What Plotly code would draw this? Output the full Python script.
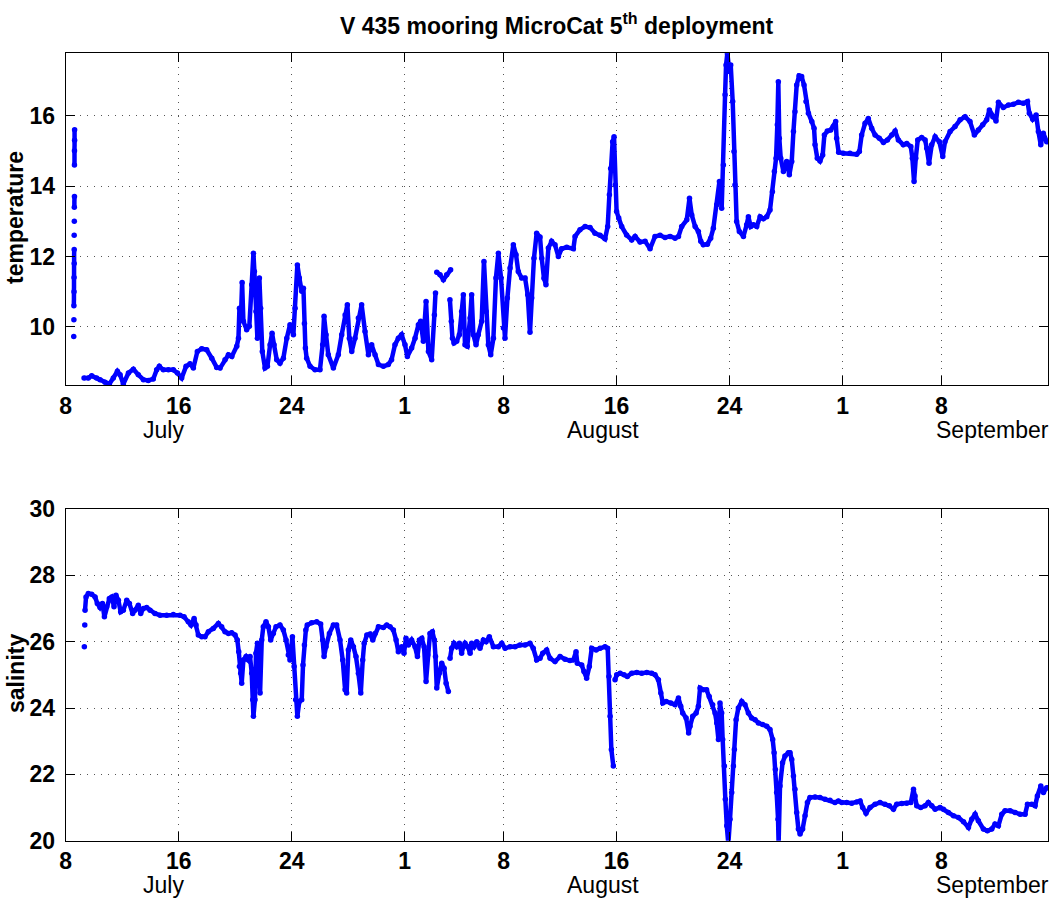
import datetime as dt
import plotly.graph_objects as go

START = dt.datetime(2009, 7, 8)

# Temperature record: time in days after 8 July 00:00, None marks a break
temp_day = [
    0.63, 0.63, 0.62, 0.62, None, 0.62, 0.61, None, 0.61, None, 0.60, None,
    0.60, 0.60, 0.59, 0.59, 0.58, None, 0.58, None, 0.57, None,
    1.30, 1.60, 1.84, 2.19, 2.43, 2.78, 3.09, 3.37, 3.66, 3.85, 4.08, 4.44,
    4.79, 5.14, 5.50, 5.85, 6.20, 6.44, 6.63, 6.91, 7.27, 7.62, 7.91, 8.21,
    8.52, 8.80, 9.04, 9.32, 9.63, 9.98, 10.34, 10.69, 10.93, 11.28, 11.52,
    11.76, 12.11, 12.23, 12.30, 12.42, 12.49, 12.58, 12.81, 13.00, 13.17,
    13.29, 13.36, 13.47, 13.57, 13.71, 13.80, 13.92, 14.11, 14.28, 14.47,
    14.61, 14.75, 14.94, 15.17, 15.41, 15.65, 15.88, 16.12, 16.24, 16.40,
    16.54, 16.71, 16.83, 16.90, 16.97, 17.06, 17.30, 17.65, 18.00, 18.19,
    18.29, 18.43, 18.59, 18.95, 19.30, 19.54, 19.78, 19.94, 20.08, 20.25,
    20.48, 20.72, 20.95, 21.19, 21.43, 21.66, 21.90, 22.14, 22.49, 22.84,
    23.07, 23.31, 23.55, 23.78, 24.02, 24.19, 24.49, 24.73, 24.97, 25.13,
    25.32, 25.51, 25.68, 25.91, 26.10, 26.18, None,
    26.27, 26.50, 26.74, 26.97, 27.25, None,
    27.20, 27.30, 27.38, 27.49, 27.68, 27.87, 28.03, 28.15, 28.27, 28.43,
    28.63, 28.74, 28.86, 29.05, 29.21, 29.45, 29.61, 29.76, 29.92, 30.09,
    30.28, 30.46, 30.63, 30.82, 30.99, 31.10, 31.27, 31.46, 31.69, 31.88,
    32.04, 32.28, 32.52, 32.71, 32.87, 32.99, 33.15, 33.34, 33.58, 33.70,
    33.86, 34.00, 34.17, 34.40, 34.64, 34.88, 35.11, 35.47, 35.94, 36.06,
    36.41, 36.77, 37.12, 37.47, 37.83, 38.18, 38.37, 38.49, 38.58, 38.72,
    38.82, 38.91, 39.00, 39.15, 39.36, 39.71, 40.07, 40.31, 40.66, 41.02,
    41.37, 41.72, 42.08, 42.43, 42.79, 43.14, 43.38, 43.61, 43.97, 44.16,
    44.32, 44.56, 44.79, 44.96, 45.14, 45.43, 45.66, 45.85, 46.09, 46.28,
    46.44, 46.56, 46.68, 46.75, 46.84, 46.99, 47.08, 47.22, 47.31, 47.38,
    47.50, 47.69, 47.98, 48.21, 48.33, 48.50, 48.69, 48.92, 49.16, 49.39,
    49.63, 49.86, 50.03, 50.17, 50.29, 50.38, 50.45, 50.52, 50.62, 50.81,
    51.04, 51.23, 51.40, 51.52, 51.63, 51.75, 51.92, 52.10, 52.27, 52.41,
    52.58, 52.82, 52.98, 53.05, 53.21, 53.40, 53.59, 53.71, 53.92, 54.16,
    54.34, 54.51, 54.58, 54.72, 55.05, 55.52, 56.00, 56.19, 56.35, 56.59,
    56.82, 57.06, 57.30, 57.60, 57.89, 58.17, 58.48, 58.72, 58.95, 59.30,
    59.54, 59.83, 59.94, 60.06, 60.18, 60.32, 60.60, 60.84, 60.96, 61.12,
    61.31, 61.55, 61.85, 62.09, 62.25, 62.61, 62.96, 63.32, 63.67, 64.02,
    64.33, 64.61, 64.92, 65.20, 65.39, 65.63, 65.86, 66.03, 66.38, 66.74,
    67.09, 67.45, 67.80, 68.09, 68.22, 68.46, 68.70, 68.86, 69.03, 69.21,
    69.45,
]
temp_val = [
    15.60, 15.30, 15.00, 14.60, None, 13.70, 13.40, None, 13.00, None, 12.60, None,
    12.20, 11.80, 11.40, 11.00, 10.60, None, 10.20, None, 9.73, None,
    8.55, 8.55, 8.61, 8.55, 8.50, 8.43, 8.38, 8.55, 8.74, 8.64, 8.38, 8.69,
    8.80, 8.64, 8.50, 8.48, 8.52, 8.78, 8.88, 8.78, 8.78, 8.78, 8.69, 8.55,
    8.88, 8.95, 8.83, 9.30, 9.38, 9.35, 9.11, 8.85, 8.83, 9.07, 9.21,
    9.16, 9.45, 9.68, 10.53, 10.44, 11.26, 10.16, 9.92, 10.02, 11.20,
    12.09, 11.57, 10.44, 9.68, 11.39, 10.53, 9.30, 8.83, 8.88, 9.49,
    9.82, 9.49, 9.07, 8.97, 9.11, 9.68, 10.06, 9.78, 10.53, 11.76,
    11.39, 11.01, 11.10, 10.10, 9.40, 9.11, 8.88, 8.78, 8.78, 9.49,
    10.30, 9.78, 9.21, 8.83, 9.21, 9.78, 10.34, 10.63, 9.68, 9.30,
    9.68, 10.25, 10.63, 9.87, 9.21, 9.49, 9.21, 8.93, 8.88, 8.93,
    9.07, 9.49, 9.68, 9.78, 9.49, 9.16, 9.40, 9.68, 10.06, 10.16,
    9.59, 10.72, 9.30, 9.07, 10.34, 10.96, None,
    11.55, 11.48, 11.34, 11.48, 11.62, None,
    10.77, 10.16, 9.68, 9.54, 9.59, 9.78, 10.44, 10.91, 9.49, 9.45,
    10.25, 10.91, 9.78, 9.49, 9.78, 10.16, 11.86, 10.44, 9.49, 9.21,
    9.68, 11.39, 12.09, 11.39, 9.97, 9.68, 10.82, 11.67, 12.33, 12.05,
    11.57, 11.39, 11.39, 10.91, 9.85, 10.82, 11.95, 12.66, 12.55, 11.95,
    11.38, 11.20, 12.24, 12.43, 12.33, 12.00, 12.22, 12.26, 12.22, 12.57,
    12.76, 12.85, 12.82, 12.66, 12.60, 12.50, 12.85, 13.75, 14.50, 15.26,
    15.40, 14.03, 13.28, 13.09, 12.85, 12.61, 12.47, 12.57, 12.41, 12.43,
    12.22, 12.57, 12.60, 12.54, 12.57, 12.52, 12.57, 12.85, 13.04, 13.65,
    13.18, 12.85, 12.71, 12.43, 12.33, 12.35, 12.52, 12.80, 13.47, 14.13,
    13.37, 14.60, 16.59, 17.44, 17.77, 17.25, 17.44, 16.40, 14.98, 14.03,
    12.99, 12.71, 12.57, 12.90, 13.13, 12.85, 12.90, 12.85, 13.13, 13.07,
    13.13, 13.32, 13.84, 14.41, 14.79, 15.74, 16.96, 15.36, 14.79, 14.41,
    14.70, 14.32, 14.70, 15.55, 16.11, 16.87, 17.13, 17.11, 16.87, 16.40,
    16.07, 15.83, 15.64, 15.17, 14.79, 14.71, 14.88, 15.45, 15.56, 15.59,
    15.69, 15.83, 15.36, 14.96, 14.93, 14.93, 14.90, 14.98, 15.45, 15.78,
    15.92, 15.64, 15.45, 15.36, 15.24, 15.31, 15.45, 15.56, 15.31, 15.17,
    15.21, 15.12, 14.79, 14.13, 14.79, 15.31, 15.38, 15.31, 15.07, 14.65,
    15.17, 15.40, 15.26, 14.84, 15.26, 15.55, 15.69, 15.88, 15.97, 15.83,
    15.45, 15.59, 15.74, 15.88, 16.16, 15.97, 15.85, 16.38, 16.23, 16.30,
    16.32, 16.38, 16.35, 16.40, 16.07, 15.90, 16.02, 15.55, 15.17, 15.50,
    15.26,
]

# Salinity record on the same time base
sal_day = [
    1.32, None, 1.35, None,
    1.37, 1.44, 1.60, 1.84, 2.08, 2.24, 2.43, 2.60, 2.74, 2.90, 3.09, 3.26,
    3.42, 3.56, 3.73, 3.89, 4.08, 4.32, 4.51, 4.74, 4.91, 5.14, 5.31, 5.50,
    5.73, 5.97, 6.32, 6.68, 7.15, 7.62, 8.09, 8.38, 8.68, 8.87, 9.09, 9.23,
    9.39, 9.63, 9.86, 10.10, 10.45, 10.81, 11.04, 11.28, 11.52, 11.75, 11.99,
    12.15, 12.25, 12.30, 12.39, 12.46, 12.58, 12.77, 12.93, 13.05, 13.17,
    13.24, 13.29, 13.40, 13.47, 13.57, 13.64, 13.76, 13.88, 13.99, 14.18,
    14.35, 14.51, 14.70, 14.89, 15.17, 15.41, 15.60, 15.76, 15.88, 16.05,
    16.17, 16.28, 16.40, 16.54, 16.71, 16.80, 16.90, 17.00, 17.10, 17.41,
    17.77, 18.05, 18.19, 18.29, 18.43, 18.67, 18.95, 19.18, 19.42, 19.61,
    19.78, 19.89, 20.01, 20.18, 20.37, 20.55, 20.72, 20.89, 21.03, 21.13,
    21.32, 21.55, 21.74, 21.90, 22.14, 22.49, 22.73, 22.96, 23.20, 23.39,
    23.55, 23.79, 23.95, 24.09, 24.26, 24.49, 24.73, 24.90, 25.04, 25.21,
    25.37, 25.51, 25.63, 25.79, 25.96, 26.10, 26.18, 26.27, 26.45, 26.62,
    26.79, 26.93, 27.09, None,
    27.21, 27.32, 27.49, 27.68, 27.87, 28.03, 28.15, 28.27, 28.46, 28.63,
    28.74, 28.91, 29.10, 29.33, 29.57, 29.76, 29.99, 30.28, 30.63, 30.87,
    31.11, 31.46, 31.81, 32.16, 32.52, 32.87, 33.10, 33.34, 33.58, 33.77,
    34.05, 34.29, 34.64, 35.00, 35.35, 35.70, 35.94, 36.13, 36.22, 36.53,
    36.69, 36.88, 37.07, 37.24, 37.55, 37.83, 38.18, 38.37, 38.46, 38.54,
    38.63, 38.77, None,
    38.89, 39.01, 39.25, 39.53, 39.76, 40.07, 40.43, 40.78, 41.14, 41.49,
    41.72, 41.96, 42.13, 42.27, 42.51, 42.84, 43.14, 43.38, 43.54, 43.68,
    43.92, 44.10, 44.20, 44.39, 44.63, 44.79, 44.91, 45.14, 45.37, 45.56,
    45.80, 45.97, 46.09, 46.21, 46.32, 46.44, 46.51, 46.63, 46.70, 46.80,
    46.91, 47.03, 47.15, 47.27, 47.34, 47.46, 47.62, 47.86, 48.09, 48.33,
    48.56, 48.80, 49.04, 49.34, 49.63, 49.86, 50.05, 50.15, 50.24, 50.33,
    50.43, 50.47, 50.57, 50.75, 50.92, 51.16, 51.28, 51.40, 51.52, 51.63,
    51.75, 51.87, 51.99, 52.17, 52.34, 52.51, 52.69, 53.05, 53.40, 53.76,
    54.11, 54.46, 54.70, 54.94, 55.29, 55.65, 56.00, 56.24, 56.42, 56.66,
    56.94, 57.30, 57.65, 58.00, 58.31, 58.60, 58.83, 59.19, 59.54, 59.83,
    60.02, 60.13, 60.25, 60.53, 60.84, 61.07, 61.31, 61.55, 61.90, 62.14,
    62.49, 62.85, 63.20, 63.56, 63.91, 64.14, 64.38, 64.61, 64.97, 65.25,
    65.56, 65.79, 66.03, 66.27, 66.50, 66.86, 67.21, 67.57, 67.92, 68.09,
    68.39, 68.63, 68.79, 69.03, 69.22, 69.45,
]
sal_val = [
    25.85, None, 26.50, None,
    26.95, 27.35, 27.45, 27.43, 27.35, 27.15, 27.03, 27.15, 26.75, 27.05, 27.30, 27.35,
    27.05, 27.40, 27.25, 26.90, 26.95, 27.25, 27.15, 26.85, 26.95, 27.10, 26.85, 27.00,
    27.03, 26.95, 26.85, 26.80, 26.80, 26.82, 26.80, 26.75, 26.60, 26.50, 26.70, 26.50,
    26.20, 26.15, 26.15, 26.30, 26.40, 26.55, 26.45, 26.30, 26.25, 26.27, 26.20,
    26.05, 25.70, 25.25, 25.05, 24.75, 25.45, 25.55, 25.45, 25.55, 25.05,
    24.25, 23.75, 24.25, 25.65, 25.95, 25.05, 24.45, 26.05, 26.45, 26.60,
    26.45, 26.05, 26.25, 26.45, 26.50, 26.35, 26.05, 25.60, 25.45, 26.15,
    25.25, 24.25, 23.75, 24.20, 24.25, 25.30, 25.90, 26.35, 26.50, 26.57,
    26.60, 26.53, 26.05, 25.55, 25.85, 26.25, 26.50, 26.50, 26.05, 25.45,
    24.55, 24.45, 25.75, 26.05, 25.85, 25.55, 25.05, 24.45, 25.45, 25.95,
    26.20, 26.23, 26.05, 26.25, 26.45, 26.43, 26.50, 26.45, 26.35, 26.05,
    25.70, 25.85, 25.65, 26.10, 25.90, 26.05, 25.85, 25.55, 26.05, 26.10,
    25.85, 24.80, 25.60, 26.25, 26.30, 26.05, 25.55, 24.60, 25.05, 25.35,
    25.20, 24.75, 24.50, None,
    25.50, 25.80, 25.95, 25.85, 25.95, 25.65, 25.85, 25.95, 25.85, 25.65,
    25.95, 25.85, 26.00, 25.80, 26.05, 26.00, 26.15, 25.85, 25.85, 25.95,
    25.80, 25.85, 25.85, 25.90, 25.90, 25.95, 25.80, 25.45, 25.50, 25.65,
    25.75, 25.50, 25.40, 25.55, 25.47, 25.43, 25.45, 25.70, 25.35, 25.30,
    25.10, 24.90, 25.25, 25.80, 25.75, 25.80, 25.85, 25.80, 24.95, 23.75,
    22.75, 22.25, None,
    24.85, 25.00, 25.05, 25.00, 24.95, 25.05, 25.07, 25.05, 25.07, 25.05,
    25.00, 24.85, 24.45, 24.15, 24.20, 24.15, 24.10, 24.30, 24.05, 23.85,
    23.70, 23.25, 23.45, 23.75, 23.85, 24.05, 24.60, 24.55, 24.55, 24.35,
    24.10, 23.85, 23.55, 23.05, 24.15, 23.85, 23.05, 22.25, 21.25, 20.45,
    19.90, 20.65, 21.45, 22.25, 22.75, 23.65, 24.00, 24.20, 24.10, 23.85,
    23.70, 23.65, 23.55, 23.50, 23.45, 23.35, 23.05, 22.65, 22.15, 21.45,
    20.65, 19.90, 21.65, 22.35, 22.55, 22.65, 22.65, 22.45, 21.95, 21.55,
    20.85, 20.35, 20.20, 20.35, 20.75, 21.15, 21.30, 21.32, 21.30, 21.25,
    21.22, 21.15, 21.20, 21.15, 21.15, 21.13, 21.17, 21.20, 21.00, 20.83,
    21.00, 21.10, 21.15, 21.10, 21.05, 20.95, 21.10, 21.12, 21.13, 21.15,
    21.55, 21.35, 21.05, 21.00, 21.05, 21.15, 21.05, 20.95, 21.00, 20.95,
    20.85, 20.75, 20.70, 20.57, 20.40, 20.65, 20.80, 20.60, 20.35, 20.30,
    20.35, 20.50, 20.45, 20.80, 20.90, 20.90, 20.85, 20.80, 20.80, 21.10,
    21.10, 21.05, 21.35, 21.65, 21.45, 21.60,
]

# Axis labelling
tick_dates = ["2009-07-08", "2009-07-16", "2009-07-24", "2009-08-01", "2009-08-08",
              "2009-08-16", "2009-08-24", "2009-09-01", "2009-09-08"]
tick_text = ["8", "16", "24", "1", "8", "16", "24", "1", "8"]
month_names = ["July", "August", "September"]
month_dates = ["2009-07-14 23:00", "2009-08-15 01:00", "2009-09-11 15:00"]
x_span = ["2009-07-08 00:00", "2009-09-15 13:00"]
temp_ticks = [10, 12, 14, 16]
sal_ticks = [20, 22, 24, 26, 28, 30]


def to_time(days):
    return [START + dt.timedelta(days=d) if d is not None else None for d in days]


BLUE = "#0000ff"
FONT = "Liberation Sans"
FS = 23

fig = go.Figure()
fig.add_trace(go.Scatter(
    x=to_time(temp_day), y=temp_val, mode="lines+markers",
    line=dict(color=BLUE, width=4.5), marker=dict(color=BLUE, size=5.5),
    connectgaps=False, xaxis="x", yaxis="y", showlegend=False))
fig.add_trace(go.Scatter(
    x=to_time(sal_day), y=sal_val, mode="lines+markers",
    line=dict(color=BLUE, width=4.5), marker=dict(color=BLUE, size=5.5),
    connectgaps=False, xaxis="x2", yaxis="y2", showlegend=False))

W, H = 1058, 902
xdom = [65.7 / W, 1048 / W]
ydom_top = [1 - 385 / H, 1 - 53.3 / H]
ydom_bot = [1 - 840.7 / H, 1 - 509 / H]

axis_common = dict(
    showline=True, linecolor="black", linewidth=1.2, mirror="ticks",
    ticks="inside", ticklen=9, tickwidth=1.2, tickcolor="black",
    showgrid=True, gridcolor="#555555", gridwidth=1, griddash="1px,6px",
    zeroline=False, automargin=False,
    tickfont=dict(family=FONT, size=FS, color="black", weight="bold"),
)

fig.update_layout(
    width=W, height=H,
    margin=dict(l=0, r=0, t=0, b=0, pad=0, autoexpand=False),
    paper_bgcolor="white", plot_bgcolor="white", showlegend=False,
    xaxis=dict(domain=xdom, anchor="y", type="date", range=x_span,
               tickvals=tick_dates, ticktext=tick_text, **axis_common),
    yaxis=dict(domain=ydom_top, anchor="x", range=[8.35, 17.77],
               tickvals=temp_ticks, ticklabelstandoff=5, **axis_common),
    xaxis2=dict(domain=xdom, anchor="y2", type="date", range=x_span,
                tickvals=tick_dates, ticktext=tick_text, **axis_common),
    yaxis2=dict(domain=ydom_bot, anchor="x2", range=[20, 30],
                tickvals=sal_ticks, ticklabelstandoff=5, **axis_common),
)

xmid = (xdom[0] + xdom[1]) / 2
ann = [
    dict(text="V 435 mooring MicroCat 5<sup>th</sup> deployment",
         x=xmid, y=1 - 41 / H, xref="paper", yref="paper",
         xanchor="center", yanchor="bottom", showarrow=False,
         font=dict(family=FONT, size=FS, color="black", weight="bold")),
    dict(text="temperature", x=15 / W, y=1 - 218 / H, xref="paper", yref="paper",
         textangle=-90, xanchor="center", yanchor="middle", showarrow=False,
         font=dict(family=FONT, size=FS, color="black", weight="bold")),
    dict(text="salinity", x=16 / W, y=1 - 674 / H, xref="paper", yref="paper",
         textangle=-90, xanchor="center", yanchor="middle", showarrow=False,
         font=dict(family=FONT, size=FS, color="black", weight="bold")),
]
for ytop in (415, 870):
    for name, pos in zip(month_names, month_dates):
        ann.append(dict(text=name, x=pos, y=1 - ytop / H, xref="x", yref="paper",
                        xanchor="center", yanchor="top", showarrow=False,
                        font=dict(family=FONT, size=FS, color="black")))
fig.update_layout(annotations=ann)

fig.write_html("out.html")
